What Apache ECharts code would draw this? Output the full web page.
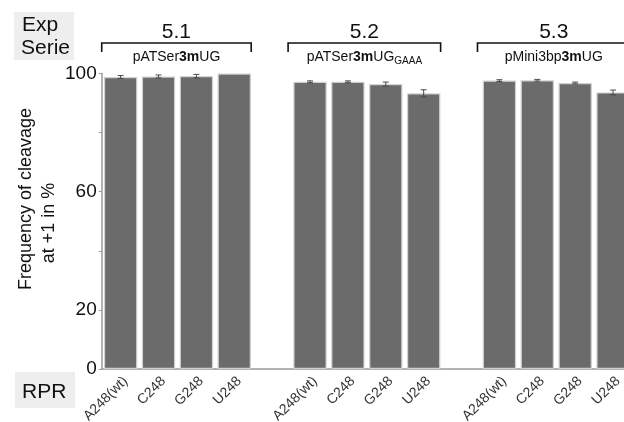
<!DOCTYPE html>
<html>
<head>
<meta charset="utf-8">
<script src="https://cdn.jsdelivr.net/npm/echarts@6/dist/echarts.min.js"></script>
<style>
html, body { margin: 0; padding: 0; background: #fff; }
#chart { width: 624px; height: 422px; }
</style>
</head>
<body>
<div id="chart"></div>
<script>
// Experiment series and their plasmid constructs
const seriesIds = ['5.1', '5.2', '5.3'];
const plasmidLabels = [
  '{n|pATSer}{b|3m}{n|UG}',
  '{n|pATSer}{b|3m}{n|UG}{s|GAAA}',
  '{n|pMini3bp}{b|3m}{n|UG}'
];
// RPR variants tested in each series
const rprVariants = ['A248(wt)', 'C248', 'G248', 'U248'];

// Cleavage frequency at +1 (%) and error (±) per series
const values51 = [98.8, 99.0, 99.1, 100.0];
const errors51 = [0.5, 0.5, 0.6, 0.0];
const values52 = [97.2, 97.2, 96.4, 93.3];
const errors52 = [0.3, 0.3, 0.7, 1.2];
const values53 = [97.6, 97.7, 96.8, 93.6];
const errors53 = [0.3, 0.3, 0.3, 0.8];

const yTicks = [0, 20, 40, 60, 80, 100];
const yLabeled = [0, 20, 60, 100];

const FONT = '"Liberation Sans", Arial, sans-serif';

// Lay the groups out on one category axis, with an empty slot between groups
const groupValues = [values51, values52, values53];
const groupErrors = [errors51, errors52, errors53];
const categories = [];
const barData = [];
const errData = [];
const groupRanges = [];
groupValues.forEach((vals, g) => {
  if (g > 0) { categories.push(' '.repeat(g)); barData.push('-'); }
  const start = categories.length;
  vals.forEach((v, i) => {
    const idx = categories.length;
    categories.push(rprVariants[i]);
    barData.push(v);
    errData.push([idx, v, groupErrors[g][i]]);
  });
  groupRanges.push([start, categories.length - 1]);
});

const chart = echarts.init(document.getElementById('chart'), null, { renderer: 'canvas' });

// The plot runs a little past the right edge of the canvas
chart.setOption({
  animation: false,
  backgroundColor: '#ffffff',
  grid: {
    left: 101.7, width: 530.3, top: 73.5, bottom: 53,
    containLabel: false, outerBoundsMode: 'none'
  },
  xAxis: {
    type: 'category',
    data: categories,
    axisLine: { lineStyle: { color: '#9a9a9a', width: 1.5 } },
    axisTick: { interval: 0, length: 4, lineStyle: { color: '#9a9a9a' } },
    axisLabel: {
      interval: 0, rotate: 45, margin: 5, verticalAlign: 'top',
      fontFamily: FONT, fontSize: 14, color: '#333333'
    }
  },
  yAxis: {
    type: 'value',
    min: yTicks[0], max: yTicks[yTicks.length - 1], interval: 20,
    splitLine: { show: false },
    axisLine: { show: true, lineStyle: { color: '#9a9a9a', width: 1.5 } },
    axisTick: { show: true, length: 3, lineStyle: { color: '#9a9a9a' } },
    axisLabel: {
      margin: 5, fontFamily: FONT, fontSize: 19, color: '#111111',
      formatter: v => (yLabeled.indexOf(v) >= 0 ? String(v) : '')
    }
  },
  series: [
    {
      type: 'bar',
      data: barData,
      barWidth: '88%',
      itemStyle: { color: '#6b6b6b', borderColor: '#d0d0d0', borderWidth: 1.2 }
    },
    {
      type: 'custom',
      data: errData,
      encode: { x: 0, y: 1 },
      z: 5,
      renderItem: (params, api) => {
        const x = api.value(0), v = api.value(1), e = api.value(2);
        if (!e) return null;
        const hi = api.coord([x, v + e]);
        const lo = api.coord([x, v - e]);
        const cap = 3;
        const st = { stroke: '#4a4a4a', lineWidth: 1 };
        return {
          type: 'group',
          children: [
            { type: 'line', shape: { x1: hi[0], y1: hi[1], x2: lo[0], y2: lo[1] }, style: st },
            { type: 'line', shape: { x1: hi[0] - cap, y1: hi[1], x2: hi[0] + cap, y2: hi[1] }, style: st },
            { type: 'line', shape: { x1: lo[0] - cap, y1: lo[1], x2: lo[0] + cap, y2: lo[1] }, style: st }
          ]
        };
      }
    }
  ]
});

// Series brackets and annotations placed from the category axis
const band = chart.convertToPixel({ xAxisIndex: 0 }, 1) - chart.convertToPixel({ xAxisIndex: 0 }, 0);
const graphics = [];
groupRanges.forEach((r, g) => {
  const x1 = chart.convertToPixel({ xAxisIndex: 0 }, r[0]) - band / 2 - (g === 0 ? 0 : 3);
  const x2 = chart.convertToPixel({ xAxisIndex: 0 }, r[1]) + band / 2 - 2;
  const cx = (x1 + x2) / 2;
  graphics.push({
    type: 'polyline',
    shape: { points: [[x1, 52], [x1, 43], [x2, 43], [x2, 52]] },
    style: { stroke: '#111', lineWidth: 1.6, fill: null }
  });
  graphics.push({
    type: 'text', x: cx, y: 32,
    style: { text: seriesIds[g], font: '21px ' + FONT, fill: '#111', align: 'center', verticalAlign: 'middle' }
  });
  graphics.push({
    type: 'text', x: cx, y: 57,
    style: {
      text: plasmidLabels[g], align: 'center', verticalAlign: 'middle', fill: '#111',
      rich: {
        n: { fontFamily: FONT, fontSize: 14, fill: '#111' },
        b: { fontFamily: FONT, fontSize: 14, fontWeight: 'bold', fill: '#111' },
        s: { fontFamily: FONT, fontSize: 10, fill: '#111', verticalAlign: 'bottom', padding: [9, 0, 0, 0] }
      }
    }
  });
});

// Row headers
graphics.push(
  { type: 'rect', shape: { x: 14, y: 12, width: 60, height: 48 }, style: { fill: '#eeeeee' } },
  { type: 'text', x: 22, y: 25, style: { text: 'Exp', font: '21px ' + FONT, fill: '#111', verticalAlign: 'middle' } },
  { type: 'text', x: 21, y: 48, style: { text: 'Serie', font: '21px ' + FONT, fill: '#111', verticalAlign: 'middle' } },
  { type: 'rect', shape: { x: 15, y: 372, width: 60, height: 36 }, style: { fill: '#eeeeee' } },
  { type: 'text', x: 22, y: 392, style: { text: 'RPR', font: '21px ' + FONT, fill: '#111', verticalAlign: 'middle' } },
  // Y axis title
  { type: 'text', x: 26, y: 199, rotation: Math.PI / 2,
    style: { text: 'Frequency of cleavage', font: '18px ' + FONT, fill: '#111', align: 'center', verticalAlign: 'middle' } },
  { type: 'text', x: 49, y: 223, rotation: Math.PI / 2,
    style: { text: 'at +1 in %', font: '18px ' + FONT, fill: '#111', align: 'center', verticalAlign: 'middle' } }
);

chart.setOption({ graphic: graphics });
</script>
</body>
</html>
